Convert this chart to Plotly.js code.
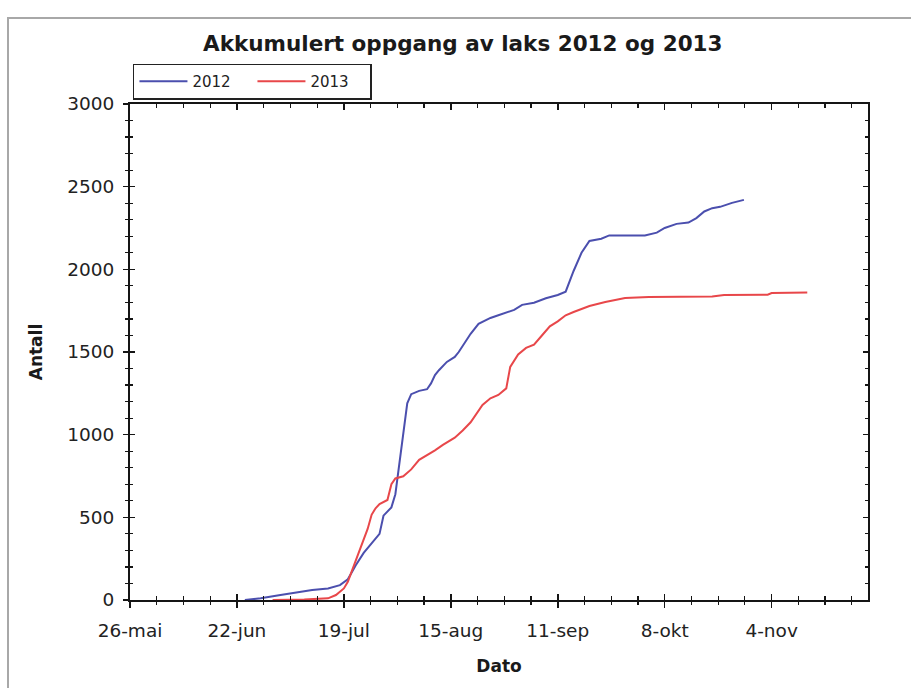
<!DOCTYPE html>
<html>
<head>
<meta charset="utf-8">
<script src="https://cdn.plot.ly/plotly-3.0.1.min.js"></script>
<style>
  html, body { margin: 0; padding: 0; background: #ffffff; }
  #wrap { position: relative; width: 911px; height: 688px; overflow: hidden; }
  #chart { position: absolute; left: 0; top: 0; width: 911px; height: 688px; }
  #frame { position: absolute; left: 7px; top: 17px; width: 1000px; height: 1000px;
           border-left: 2px solid #a8a8a8; border-top: 2px solid #a8a8a8; pointer-events: none; }
</style>
</head>
<body>
<div id="wrap">
  <div id="chart"></div>
  <div id="frame"></div>
</div>
<script>
// Shared plotting year for the day-month axis
const PLOT_YEAR = '2013';

// 2012 cumulative count (month-day, value)
const dates2012 = ['06-24','06-28','07-03','07-07','07-11','07-15','07-18','07-20','07-22','07-24',
  '07-26','07-28','07-29','07-30','07-31','08-01','08-02','08-03','08-04','08-05',
  '08-07','08-09','08-10','08-11','08-12','08-14','08-16','08-17','08-19','08-20',
  '08-22','08-25','08-27','08-31','09-02','09-05','09-08','09-11','09-13','09-15',
  '09-17','09-19','09-22','09-24','10-03','10-06','10-08','10-11','10-14','10-16',
  '10-18','10-20','10-22','10-25','10-28'];
const antall2012 = [0,10,30,45,60,70,90,125,210,285,
  345,400,510,535,560,640,820,1020,1190,1245,
  1265,1275,1310,1360,1390,1440,1470,1500,1570,1610,
  1670,1706,1722,1755,1785,1798,1825,1845,1865,1990,
  2100,2172,2185,2205,2205,2222,2250,2275,2283,2310,
  2350,2370,2378,2402,2420];

// 2013 cumulative count (month-day, value)
const dates2013 = ['07-01','07-09','07-15','07-17','07-19','07-20','07-21','07-22','07-23','07-24',
  '07-25','07-26','07-27','07-28','07-30','07-31','08-01','08-03','08-05','08-07',
  '08-09','08-11','08-13','08-16','08-18','08-20','08-23','08-25','08-27','08-29',
  '08-30','09-01','09-03','09-05','09-07','09-09','09-11','09-13','09-15','09-19',
  '09-23','09-28','10-04','10-20','10-23','11-03','11-04','11-13'];
const antall2013 = [0,3,10,30,70,110,175,240,310,375,
  430,515,555,580,605,700,735,748,790,848,
  875,905,938,982,1025,1075,1180,1220,1240,1280,
  1410,1485,1525,1545,1600,1655,1685,1722,1742,1778,
  1802,1826,1833,1835,1845,1847,1857,1860];

// x tick labels
const tickDates = ['05-26','06-22','07-19','08-15','09-11','10-08','11-04'];
const tickLabels = ['26-mai','22-jun','19-jul','15-aug','11-sep','8-okt','4-nov'];

const seriesNames = ['2012','2013'];
const seriesColors = ['#4b4fae','#e8474a'];

const toDate = d => PLOT_YEAR + '-' + d;
const tickvals = tickDates.map(toDate);

const FONT = 'DejaVu Sans, Arial, sans-serif';
const AXC = '#151515';
const DAY = 86400000;

const traces = [
  { x: dates2012.map(toDate), y: antall2012, name: seriesNames[0], type: 'scatter', mode: 'lines',
    line: { color: seriesColors[0], width: 2 }, xaxis: 'x', yaxis: 'y' },
  { x: dates2013.map(toDate), y: antall2013, name: seriesNames[1], type: 'scatter', mode: 'lines',
    line: { color: seriesColors[1], width: 2 }, xaxis: 'x2', yaxis: 'y2' }
];

const xRange = [toDate('05-26'), toDate('11-28') + ' 08:00'];

const layout = {
  width: 911, height: 688,
  paper_bgcolor: '#ffffff', plot_bgcolor: '#ffffff',
  margin: { l: 130, r: 43, t: 104, b: 88 },
  title: { text: 'Akkumulert oppgang av laks 2012 og 2013', xref: 'container', yref: 'container',
    x: 0.508, xanchor: 'center', y: 0.937, yanchor: 'middle',
    font: { family: FONT, size: 21.5, color: '#1a1a1a', weight: 'bold' } },
  showlegend: true,
  legend: { orientation: 'h', x: 0.004, xanchor: 'left', y: 1.009, yanchor: 'bottom',
    bordercolor: '#222', borderwidth: 1.5, bgcolor: '#ffffff',
    font: { family: FONT, size: 15, color: '#222' }, itemwidth: 48,
    entrywidth: 55, entrywidthmode: 'pixels' },
  xaxis: { type: 'date', range: xRange, tickmode: 'array', tickvals: tickvals, ticktext: tickLabels,
    ticks: 'outside', ticklen: 6, tickwidth: 1.5, tickcolor: AXC, ticklabelstandoff: 7,
    minor: { dtick: 6.75 * DAY, tick0: toDate('05-26'), ticks: 'outside', ticklen: 3, tickwidth: 1.2, tickcolor: AXC, showgrid: false },
    showline: true, linecolor: AXC, linewidth: 2, showgrid: false, zeroline: false, automargin: false,
    tickfont: { family: FONT, size: 18.5, color: '#222' },
    title: { text: 'Dato', standoff: 20, font: { family: FONT, size: 17, color: '#1a1a1a', weight: 'bold' } } },
  xaxis2: { type: 'date', matches: 'x', overlaying: 'x', anchor: 'y2', side: 'bottom',
    tickmode: 'array', tickvals: tickvals, showticklabels: false,
    ticks: 'inside', ticklen: 6, tickwidth: 1.5, tickcolor: AXC, mirror: 'ticks',
    minor: { dtick: 6.75 * DAY, tick0: toDate('05-26'), ticks: 'inside', ticklen: 4, tickwidth: 1.2, tickcolor: AXC, showgrid: false },
    showline: true, linecolor: AXC, linewidth: 2, showgrid: false, zeroline: false, automargin: false },
  yaxis: { range: [0, 3000], tickmode: 'linear', tick0: 0, dtick: 500,
    ticks: 'outside', ticklen: 5, tickwidth: 1.5, tickcolor: AXC, ticklabelstandoff: 5,
    minor: { dtick: 100, ticks: 'outside', ticklen: 3, tickwidth: 1.2, tickcolor: AXC, showgrid: false },
    showline: true, linecolor: AXC, linewidth: 2, showgrid: false, zeroline: false, automargin: false,
    tickfont: { family: FONT, size: 18.5, color: '#222' },
    title: { text: 'Antall', standoff: 20, font: { family: FONT, size: 17, color: '#1a1a1a', weight: 'bold' } } },
  yaxis2: { matches: 'y', overlaying: 'y', anchor: 'x2', side: 'left',
    tickmode: 'linear', tick0: 0, dtick: 500, showticklabels: false,
    ticks: 'inside', ticklen: 5, tickwidth: 1.5, tickcolor: AXC, mirror: 'ticks',
    minor: { dtick: 100, ticks: 'inside', ticklen: 3, tickwidth: 1.2, tickcolor: AXC, showgrid: false },
    showline: true, linecolor: AXC, linewidth: 2, showgrid: false, zeroline: false, automargin: false }
};

Plotly.newPlot('chart', traces, layout, { displayModeBar: false, staticPlot: true });
</script>
</body>
</html>
